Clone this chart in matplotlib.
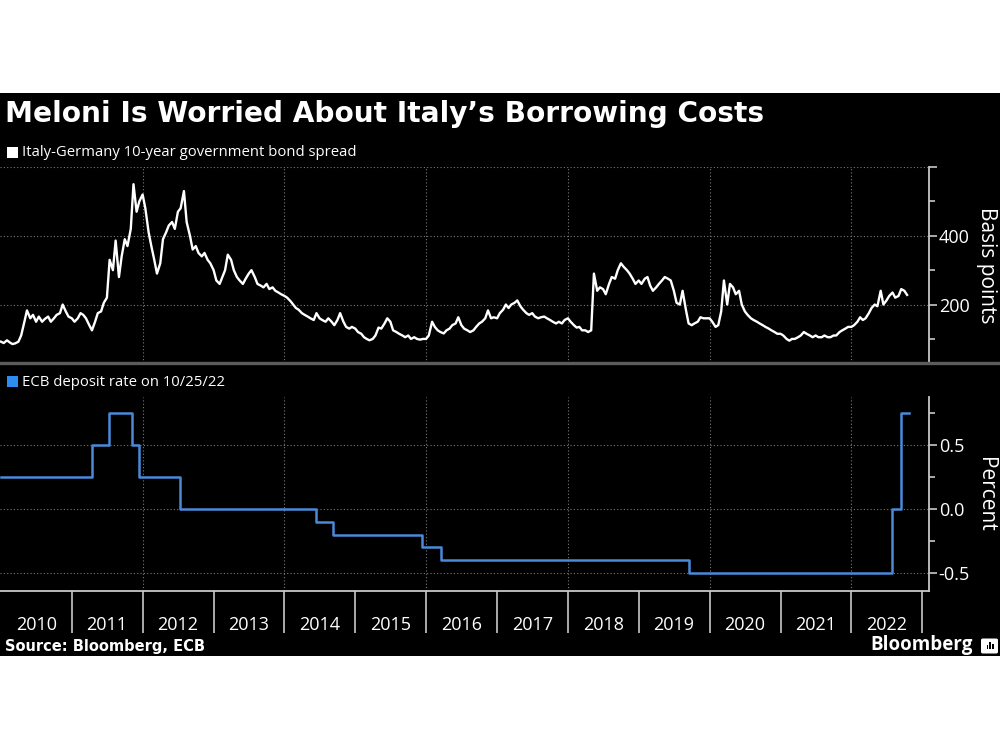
## Italy-Germany spread vs ECB deposit rate (Bloomberg style)

## -----------------------
## Load libraries
import numpy as np
import pandas as pd
import matplotlib
matplotlib.use("Agg")
import matplotlib.pyplot as plt
import matplotlib.dates as mdates
from matplotlib.patches import Rectangle, FancyBboxPatch
from matplotlib.lines import Line2D
from matplotlib.ticker import FixedLocator, FixedFormatter

## -----------------------
## Data

## Italy-Germany 10y spread in bp, two readings a month (1st / 15th), from Jan 2010
spread_2010 = [92, 88, 96, 90, 85, 87, 92, 110, 148, 183, 160, 170,
               150, 165, 150, 158, 165, 150, 160, 170, 175, 200, 180, 165]
spread_2011 = [160, 150, 160, 175, 170, 160, 140, 125, 150, 175, 180, 205,
               220, 330, 300, 386, 280, 340, 390, 370, 420, 550, 470, 500]
spread_2012 = [520, 480, 410, 370, 330, 290, 320, 390, 410, 430, 440, 420,
               470, 480, 530, 440, 400, 360, 370, 350, 340, 350, 330, 320]
spread_2013 = [300, 270, 260, 280, 300, 345, 330, 300, 280, 270, 260, 275,
               290, 300, 280, 260, 255, 250, 260, 245, 250, 240, 235, 230]
spread_2014 = [225, 220, 210, 200, 190, 185, 175, 170, 165, 160, 155, 175,
               160, 155, 150, 160, 150, 140, 155, 175, 150, 135, 130, 135]
spread_2015 = [130, 120, 115, 105, 100, 96, 100, 110, 133, 130, 145, 160,
               150, 125, 120, 115, 110, 105, 110, 100, 105, 100, 98, 100]
spread_2016 = [100, 110, 150, 135, 125, 120, 116, 125, 130, 140, 145, 163,
               140, 130, 125, 120, 125, 135, 145, 150, 160, 183, 160, 163]
spread_2017 = [160, 175, 185, 200, 190, 200, 205, 212, 195, 185, 175, 170,
               175, 165, 160, 163, 165, 160, 155, 150, 145, 150, 145, 155]
spread_2018 = [160, 150, 140, 133, 135, 125, 125, 120, 125, 290, 240, 250,
               245, 230, 260, 280, 275, 300, 320, 310, 300, 290, 275, 260]
spread_2019 = [270, 260, 275, 280, 255, 240, 250, 260, 270, 280, 275, 270,
               240, 205, 200, 240, 185, 145, 140, 145, 150, 163, 160, 160]
spread_2020 = [160, 150, 135, 140, 180, 270, 200, 260, 250, 230, 240, 200,
               180, 170, 160, 155, 150, 145, 140, 135, 130, 125, 120, 115]
spread_2021 = [115, 110, 100, 95, 100, 100, 105, 110, 120, 115, 110, 105,
               110, 105, 105, 110, 105, 105, 110, 110, 120, 125, 130, 135]
spread_2022 = [135, 140, 150, 163, 155, 160, 175, 190, 200, 195, 240, 200,
               212, 225, 235, 220, 225, 245, 240, 228]

spread_vals = (spread_2010 + spread_2011 + spread_2012 + spread_2013 + spread_2014 +
               spread_2015 + spread_2016 + spread_2017 + spread_2018 + spread_2019 +
               spread_2020 + spread_2021 + spread_2022)
spread_dates = pd.date_range("2010-01-01", periods=len(spread_vals), freq="SMS")

## ECB deposit rate (%), date each rate took effect
ecb_dates = ["2010-01-01", "2011-04-13", "2011-07-13", "2011-11-09", "2011-12-14",
             "2012-07-11", "2014-06-11", "2014-09-10", "2015-12-09", "2016-03-16",
             "2019-09-18", "2022-07-27", "2022-09-14", "2022-10-25"]
ecb_rates = [0.25, 0.50, 0.75, 0.50, 0.25, 0.00, -0.10, -0.20, -0.30, -0.40,
             -0.50, 0.00, 0.75, 0.75]

years = list(range(2010, 2023))

title = "Meloni Is Worried About Italy\u2019s Borrowing Costs"
legend_top = "Italy-Germany 10-year government bond spread"
legend_bot = "ECB deposit rate on 10/25/22"
source = "Source: Bloomberg, ECB"

## -----------------------
## Style
W, H = 1000, 750
blue_line = "#4a8ad8"
blue_box = "#2d8cf0"
grid_col = "#7a7a7a"
spine_col = "#c8c8c8"
plt.rcParams["font.family"] = ["Open Sans", "DejaVu Sans"]

def px_rect(x0, y0, x1, y1):
    ## pixel box (top-left origin) -> figure fraction [l, b, w, h]
    return [x0 / W, 1 - y1 / H, (x1 - x0) / W, (y1 - y0) / H]

fig = plt.figure(figsize=(10, 7.5), dpi=100)
fig.patch.set_facecolor("white")
fig.add_artist(Rectangle((0, 1 - 656 / H), 1, 563 / H, transform=fig.transFigure,
                         facecolor="black", edgecolor="none", zorder=-5))

ax1 = fig.add_axes(px_rect(0, 167, 929, 363))
ax2 = fig.add_axes(px_rect(0, 397, 929, 591))

xmin = pd.Timestamp("2009-12-27")
xmax = pd.Timestamp("2023-02-05")

for ax in (ax1, ax2):
    ax.set_facecolor("none")
    ax.set_xlim(xmin, xmax)
    for s in ["left", "top"]:
        ax.spines[s].set_visible(False)
    ax.spines["right"].set_color(spine_col)
    ax.spines["right"].set_linewidth(1.3)
    ax.yaxis.tick_right()
    ax.tick_params(axis="y", which="major", length=6, width=1.2, color=spine_col,
                   labelsize=13, labelcolor="white", pad=1)
    ax.tick_params(axis="y", which="minor", length=4, width=1.2, color=spine_col)
    ## dotted verticals every other year
    for yr in years[2::2]:
        ax.axvline(pd.Timestamp(f"{yr}-01-01"), color=grid_col, lw=0.8,
                   ls=(0, (1, 2)), zorder=1)
    ax.grid(axis="y", which="major", color=grid_col, lw=0.8, ls=(0, (1, 2)))
    ax.set_axisbelow(True)

## -----------------------
## Top panel: spread
ax1.plot(spread_dates, spread_vals, color="white", lw=1.7, zorder=3)
ax1.set_ylim(30, 600)
ax1.yaxis.set_major_locator(FixedLocator([200, 400, 600]))
ax1.yaxis.set_major_formatter(FixedFormatter(["200", "400", ""]))
ax1.yaxis.set_minor_locator(FixedLocator([100, 300, 500]))
ax1.spines["bottom"].set_visible(False)
ax1.tick_params(axis="x", which="both", bottom=False, labelbottom=False)

## -----------------------
## Bottom panel: ECB deposit rate
ax2.step(pd.to_datetime(ecb_dates), ecb_rates, where="post", color=blue_line, lw=1.8, zorder=3)
ax2.set_ylim(-0.64, 0.875)
ax2.yaxis.set_major_locator(FixedLocator([-0.5, 0.0, 0.5]))
ax2.yaxis.set_major_formatter(FixedFormatter(["-0.5", "0.0", "0.5"]))
ax2.yaxis.set_minor_locator(FixedLocator([-0.25, 0.25, 0.75]))
ax2.spines["bottom"].set_color(spine_col)
ax2.spines["bottom"].set_linewidth(1.3)

## year boundaries as long ticks, year names centred between them
ax2.xaxis.set_major_locator(FixedLocator([mdates.date2num(pd.Timestamp(f"{y}-01-01")) for y in years[1:] + [2023]]))
ax2.xaxis.set_major_formatter(FixedFormatter([""] * 13))
ax2.xaxis.set_minor_locator(FixedLocator([mdates.date2num(pd.Timestamp(f"{y}-07-02")) for y in years]))
ax2.xaxis.set_minor_formatter(FixedFormatter([str(y) for y in years]))
ax2.tick_params(axis="x", which="major", length=30, width=1.2, color=spine_col)
ax2.tick_params(axis="x", which="minor", length=0, labelsize=13, labelcolor="white", pad=18)

## -----------------------
## Figure text and decorations
fig.add_artist(Line2D([0, 1], [1 - 363 / H] * 2, color="#5c5c5c", lw=2.4,
                      transform=fig.transFigure))

fig.text(5 / W, 1 - 114 / H, title, fontsize=20.2, fontweight="bold",
         family="DejaVu Sans", color="white", va="center", ha="left")

fig.add_artist(Rectangle((7 / W, 1 - 158 / H), 11 / W, 11 / H, transform=fig.transFigure,
                         facecolor="white", edgecolor="none"))
fig.text(22 / W, 1 - 153 / H, legend_top, fontsize=10.7, color="white", va="center")

fig.add_artist(Rectangle((7 / W, 1 - 387 / H), 11 / W, 11 / H, transform=fig.transFigure,
                         facecolor=blue_box, edgecolor="none"))
fig.text(22 / W, 1 - 382 / H, legend_bot, fontsize=10.7, color="white", va="center")

fig.text(986 / W, 1 - 265 / H, "Basis points", rotation=270, fontsize=15,
         color="white", ha="center", va="center")
fig.text(986 / W, 1 - 494 / H, "Percent", rotation=270, fontsize=15,
         color="white", ha="center", va="center")

fig.text(5 / W, 1 - 646 / H, source, fontsize=10.5, fontweight="bold",
         family="DejaVu Sans", color="white", va="center", ha="left")

fig.text(973 / W, 1 - 645 / H, "Bloomberg", fontsize=13.5, fontweight="bold",
         color="white", va="center", ha="right")
fig.add_artist(FancyBboxPatch((983 / W, 1 - 652 / H), 13 / W, 12 / H,
                              boxstyle="round,pad=0.002", transform=fig.transFigure,
                              facecolor="white", edgecolor="none"))
for bx, bh in [(986.5, 4), (989.2, 7), (992, 5)]:
    fig.add_artist(Rectangle((bx / W, 1 - 649 / H), 1.6 / W, bh / H,
                             transform=fig.transFigure, facecolor="black", edgecolor="none"))

fig.savefig("out.png", dpi=100, facecolor="white")
